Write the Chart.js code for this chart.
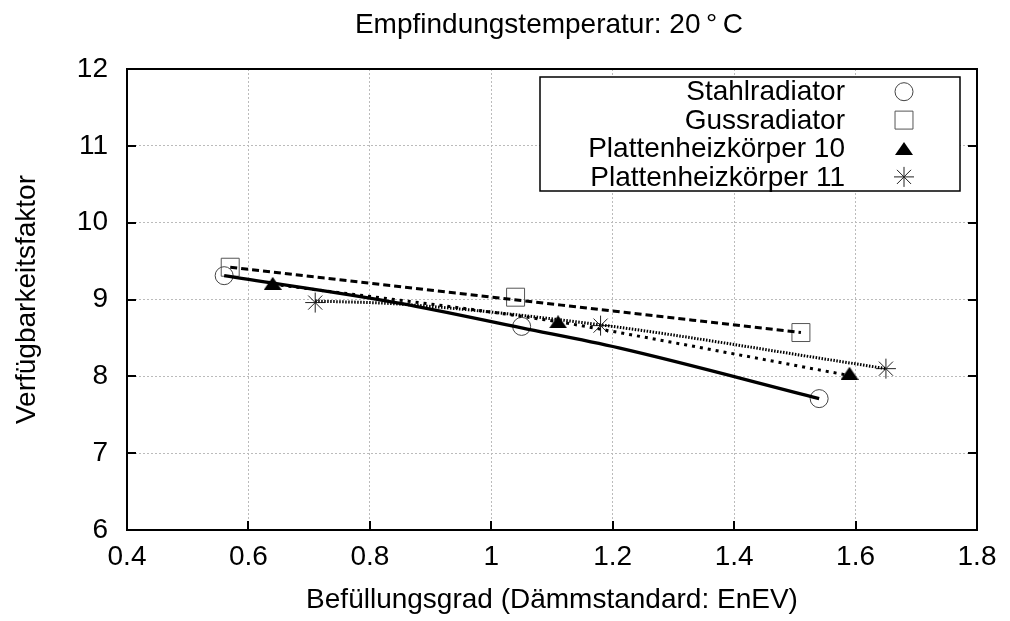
<!DOCTYPE html>
<html>
<head>
<meta charset="utf-8">
<title>Verfügbarkeitsfaktor</title>
<script src="https://cdn.jsdelivr.net/npm/chart.js@4.4.1/dist/chart.umd.min.js"></script>
<style>
  html, body { margin: 0; padding: 0; background: #fff; }
</style>
</head>
<body>
<canvas id="chart" width="1010" height="621"></canvas>
<script>
// Measured points per radiator type
const stahlX = [0.56, 1.05, 1.54];
const stahlY = [9.31, 8.65, 7.71];
const gussX = [0.57, 1.04, 1.51];
const gussY = [9.42, 9.03, 8.57];
const p10X = [0.64, 1.11, 1.59];
const p10Y = [9.21, 8.71, 8.04];
const p11X = [0.71, 1.18, 1.65];
const p11Y = [8.96, 8.66, 8.10];

// Fitted curves through each series
const stahlFitX = [0.56, 0.85, 1.05, 1.21, 1.54];
const stahlFitY = [9.31, 8.95, 8.63, 8.37, 7.71];
const gussFitX = [0.57, 1.51];
const gussFitY = [9.42, 8.57];
const p10FitX = [0.64, 1.11, 1.21, 1.59];
const p10FitY = [9.20, 8.71, 8.57, 8.01];
const p11FitX = [0.71, 0.85, 1.18, 1.57, 1.65];
const p11FitY = [8.98, 8.94, 8.67, 8.20, 8.10];

const seriesLabels = ['Stahlradiator', 'Gussradiator', 'Plattenheizkörper 10', 'Plattenheizkörper 11'];
const xTicks = [0.4, 0.6, 0.8, 1.0, 1.2, 1.4, 1.6, 1.8];
const yTicks = [6, 7, 8, 9, 10, 11, 12];
const chartTitle = 'Empfindungstemperatur: 20\u2009°\u2009C';

const FONT = "'Liberation Sans', Arial, Helvetica, sans-serif";

function pts(xs, ys) {
    return xs.map((v, i) => ({ x: v, y: ys[i] }));
}

// filled triangle used as point style (a bit wider than tall)
function triangleImage(w, h) {
    const c = document.createElement('canvas');
    c.width = w;
    c.height = h;
    const g = c.getContext('2d');
    g.beginPath();
    g.moveTo(w / 2, 0);
    g.lineTo(w, h);
    g.lineTo(0, h);
    g.closePath();
    g.fillStyle = '#000';
    g.fill();
    return c;
}
const triImg = triangleImage(18, 13);

function curve(xs, ys, width, dash) {
    return {
        data: pts(xs, ys),
        showLine: true,
        borderColor: '#000',
        borderWidth: width,
        borderDash: dash,
        borderCapStyle: 'butt',
        pointRadius: 0,
        cubicInterpolationMode: 'monotone'
    };
}

const markerSets = [
    { label: seriesLabels[0], data: pts(stahlX, stahlY), pointStyle: 'circle', pointRadius: 9,
      pointBorderColor: '#444', pointBackgroundColor: 'rgba(0,0,0,0)', pointBorderWidth: 1 },
    { label: seriesLabels[1], data: pts(gussX, gussY), pointStyle: 'rect', pointRadius: 12.7,
      pointBorderColor: '#555', pointBackgroundColor: 'rgba(0,0,0,0)', pointBorderWidth: 1 },
    { label: seriesLabels[2], data: pts(p10X, p10Y), pointStyle: triImg, pointRadius: 9,
      pointBorderColor: '#000', pointBackgroundColor: '#000', pointBorderWidth: 0 },
    { label: seriesLabels[3], data: pts(p11X, p11Y), pointStyle: 'star', pointRadius: 10,
      pointBorderColor: '#222', pointBackgroundColor: 'rgba(0,0,0,0)', pointBorderWidth: 1 }
];
markerSets.forEach(d => { d.showLine = false; });

// frame, inward ticks, boxed legend and the title centred over the plot
const frameAndLegend = {
    id: 'frameAndLegend',
    afterDatasetsDraw(chart) {
        const { ctx, chartArea: a, scales: { x, y } } = chart;
        ctx.save();
        ctx.strokeStyle = '#000';
        ctx.lineWidth = 2;
        ctx.beginPath();
        xTicks.forEach(v => {
            const px = Math.round(x.getPixelForValue(v));
            ctx.moveTo(px, a.bottom);
            ctx.lineTo(px, a.bottom - 9);
        });
        yTicks.forEach(v => {
            const py = Math.round(y.getPixelForValue(v));
            ctx.moveTo(a.left, py);
            ctx.lineTo(a.left + 9, py);
            ctx.moveTo(a.right, py);
            ctx.lineTo(a.right - 9, py);
        });
        ctx.stroke();
        ctx.strokeRect(a.left, a.top, a.right - a.left, a.bottom - a.top);

        // legend box
        const box = { l: 540, t: 77, r: 960, b: 191 };
        ctx.fillStyle = '#fff';
        ctx.fillRect(box.l, box.t, box.r - box.l, box.b - box.t);
        ctx.lineWidth = 1.5;
        ctx.strokeRect(box.l, box.t, box.r - box.l, box.b - box.t);

        ctx.font = '28px ' + FONT;
        ctx.textAlign = 'right';
        ctx.textBaseline = 'middle';
        markerSets.forEach((d, i) => {
            const cy = 91.7 + 28.4 * i;
            ctx.fillStyle = '#000';
            ctx.fillText(d.label, 845, cy + 1);
            ctx.strokeStyle = d.pointBorderColor;
            ctx.fillStyle = d.pointBackgroundColor;
            ctx.lineWidth = d.pointBorderWidth;
            Chart.helpers.drawPoint(ctx, {
                pointStyle: d.pointStyle,
                radius: d.pointRadius,
                borderWidth: d.pointBorderWidth,
                rotation: 0
            }, 904, cy);
        });

        ctx.fillStyle = '#000';
        ctx.textAlign = 'center';
        ctx.fillText(chartTitle, (a.left + a.right) / 2 - 3, 25);
        ctx.restore();
    }
};

new Chart(document.getElementById('chart'), {
    type: 'scatter',
    data: {
        datasets: [
            curve(stahlFitX, stahlFitY, 3.2, []),
            curve(gussFitX, gussFitY, 3, [7, 4]),
            curve(p10FitX, p10FitY, 3, [3, 5]),
            curve(p11FitX, p11FitY, 3, [1.5, 1.5]),
            ...markerSets
        ]
    },
    options: {
        responsive: false,
        animation: false,
        layout: { padding: { left: 0, right: 33, top: 69, bottom: 0 } },
        plugins: {
            legend: { display: false },
            tooltip: { enabled: false },
            title: { display: false }
        },
        scales: {
            x: {
                type: 'linear',
                min: 0.4,
                max: 1.8,
                afterBuildTicks: s => { s.ticks = xTicks.map(v => ({ value: v })); },
                afterFit: s => { s.height = 91; },
                grid: { color: '#bbb', lineWidth: 1, drawTicks: false },
                border: { display: false, dash: [2, 2] },
                ticks: {
                    color: '#000',
                    padding: 10,
                    maxRotation: 0,
                    font: { family: FONT, size: 28 },
                    callback: v => String(Number(v.toFixed(1)))
                },
                title: {
                    display: true,
                    text: 'Befüllungsgrad (Dämmstandard: EnEV)',
                    color: '#000',
                    font: { family: FONT, size: 28, lineHeight: 1.2 },
                    padding: { top: 3 }
                }
            },
            y: {
                type: 'linear',
                min: 6,
                max: 12,
                afterBuildTicks: s => { s.ticks = yTicks.map(v => ({ value: v })); },
                afterFit: s => { s.width = 127; },
                grid: { color: '#bbb', lineWidth: 1, drawTicks: false },
                border: { display: false, dash: [2, 2] },
                ticks: {
                    color: '#000',
                    padding: 19,
                    font: { family: FONT, size: 28 }
                },
                title: {
                    display: true,
                    text: 'Verfügbarkeitsfaktor',
                    color: '#000',
                    font: { family: FONT, size: 28, lineHeight: 1.2 },
                    padding: { top: 10 }
                }
            }
        }
    },
    plugins: [frameAndLegend]
});
</script>
</body>
</html>
